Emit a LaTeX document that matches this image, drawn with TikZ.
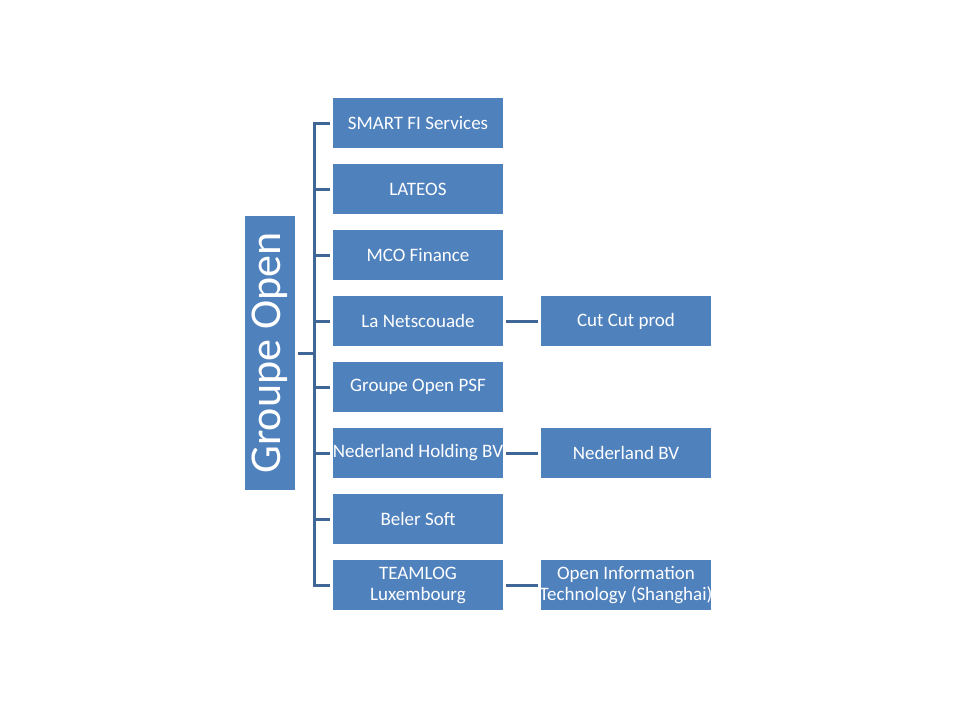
\documentclass[tikz,border=0pt]{standalone}
\usepackage{fontspec}
\setmainfont{Carlito}
\usetikzlibrary{calc}
\definecolor{boxblue}{RGB}{79,129,189}
\definecolor{lineblue}{RGB}{64,102,150}
\tikzset{
	unit/.style={fill=boxblue, text=white, minimum width=170pt, minimum height=50pt, inner sep=0pt, align=center, font=\fontsize{19}{21}\selectfont},
	link/.style={draw=lineblue, line width=3pt}
}

\begin{document}
\begin{tikzpicture}[x=1pt, y=-1pt]
		%%%%% START %%%%%
		
		\useasboundingbox (0, 0) rectangle (960, 720);
		
		\node[fill=boxblue, text=white, minimum width=274pt, minimum height=50pt, inner sep=0pt, rotate=90, font=\fontsize{44}{44}\selectfont] (root) at (270, 353) {Groupe Open};
		
		\node[unit] (smart) at (418, 123) {SMART FI Services};
		\node[unit] (lateos) at (418, 189) {LATEOS};
		\node[unit] (mco) at (418, 255) {MCO Finance};
		\node[unit] (netsc) at (418, 321) {La Netscouade};
		\node[unit] (psf) at (418, 387) {Groupe Open PSF};
		\node[unit] (nlhold) at (418, 453) {Nederland Holding BV};
		\node[unit] (beler) at (418, 519) {Beler Soft};
		\node[unit] (teamlog) at (418, 585) {TEAMLOG\\Luxembourg};
		
		\node[unit] (cutcut) at (626, 321) {Cut Cut prod};
		\node[unit] (nlbv) at (626, 453) {Nederland BV};
		\node[unit] (oit) at (626, 585) {\makebox[160pt]{Open Information}\\\makebox[160pt]{Technology (Shanghai)}};
		
		\coordinate (spine) at (314, 0);
		
		\draw[link] ([xshift=-3pt]smart.west) -- (smart.west -| spine) -- (teamlog.west -| spine) -- ([xshift=-3pt]teamlog.west);
		\draw[link] ([xshift=-3pt]lateos.west) -- (lateos.west -| spine);
		\draw[link] ([xshift=-3pt]mco.west) -- (mco.west -| spine);
		\draw[link] ([xshift=-3pt]netsc.west) -- (netsc.west -| spine);
		\draw[link] ([xshift=-3pt]psf.west) -- (psf.west -| spine);
		\draw[link] ([xshift=-3pt]nlhold.west) -- (nlhold.west -| spine);
		\draw[link] ([xshift=-3pt]beler.west) -- (beler.west -| spine);
		\draw[link] ([xshift=3pt]root.south) -- (root.south -| spine);
		
		\draw[link] ([xshift=3pt]netsc.east) -- ([xshift=-3pt]cutcut.west);
		\draw[link] ([xshift=3pt]nlhold.east) -- ([xshift=-3pt]nlbv.west);
		\draw[link] ([xshift=3pt]teamlog.east) -- ([xshift=-3pt]oit.west);
		
		%%%%% END %%%%%
	\end{tikzpicture}
\end{document}
